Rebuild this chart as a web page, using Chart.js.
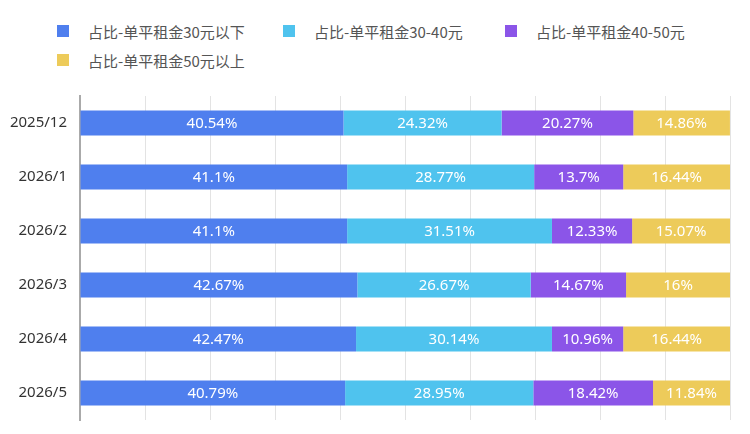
<!DOCTYPE html>
<html>
<head>
<meta charset="utf-8">
<script src="https://cdn.jsdelivr.net/npm/chart.js@4.4.1/dist/chart.umd.min.js"></script>
<style>
  html, body { margin: 0; padding: 0; background: #fff; }
  #wrap { position: relative; width: 750px; height: 434px; }
  #legend {
    position: absolute; left: 57px; top: 21px;
    display: grid; grid-template-columns: 226px 222px 226px; row-gap: 9px;
    font-family: "Noto Sans CJK SC", "Noto Sans", sans-serif; font-size: 15px; color: #555;
  }
  .item { display: flex; align-items: center; height: 20px; }
  .box { width: 12px; height: 12px; margin-right: 19px; }
  canvas { position: absolute; left: 0; top: 0; }
</style>
</head>
<body>
<div id="wrap">
  <div id="legend"></div>
  <canvas id="barChart" width="750" height="434"></canvas>
</div>
<script>
const months = ['2025/12', '2026/1', '2026/2', '2026/3', '2026/4', '2026/5']
const seriesNames = ['占比-单平租金30元以下', '占比-单平租金30-40元', '占比-单平租金40-50元', '占比-单平租金50元以上']
const below30 = [40.54, 41.1, 41.1, 42.67, 42.47, 40.79]
const from30to40 = [24.32, 28.77, 31.51, 26.67, 30.14, 28.95]
const from40to50 = [20.27, 13.7, 12.33, 14.67, 10.96, 18.42]
const above50 = [14.86, 16.44, 15.07, 16, 16.44, 11.84]
const colors = ['#4f7fee', '#4fc3ee', '#8b55e8', '#edcb5a']

const seriesValues = [below30, from30to40, from40to50, above50]

// html legend
const legendEl = document.getElementById('legend')
seriesNames.forEach((name, i) => {
    const item = document.createElement('div')
    item.className = 'item'
    const box = document.createElement('span')
    box.className = 'box'
    box.style.background = colors[i]
    const text = document.createElement('span')
    text.textContent = name
    item.appendChild(box)
    item.appendChild(text)
    legendEl.appendChild(item)
})

// white percent labels in the middle of each segment
const barLabels = {
    id: 'barLabels',
    afterDatasetsDraw(chart) {
        const ctx = chart.ctx
        ctx.save()
        ctx.fillStyle = '#fff'
        ctx.font = '15px "Noto Sans", "Noto Sans CJK SC", sans-serif'
        ctx.textAlign = 'center'
        ctx.textBaseline = 'middle'
        chart.data.datasets.forEach((ds, di) => {
            const meta = chart.getDatasetMeta(di)
            meta.data.forEach((bar, i) => {
                const x = (bar.x + bar.base) / 2
                ctx.fillText(ds.data[i] + '%', x, bar.y + 1)
            })
        })
        ctx.restore()
    }
}

new Chart(document.getElementById('barChart'), {
    type: 'bar',
    data: {
        labels: months,
        datasets: seriesNames.map((name, i) => ({
            label: name,
            data: seriesValues[i],
            backgroundColor: colors[i],
            borderWidth: 0,
            barPercentage: 0.46,
            categoryPercentage: 1,
        })),
    },
    options: {
        indexAxis: 'y',
        responsive: false,
        animation: false,
        layout: { padding: { top: 96, right: 20, bottom: 14, left: 0 } },
        plugins: {
            legend: { display: false },
            tooltip: { enabled: false },
        },
        scales: {
            x: {
                stacked: true,
                min: 0,
                max: 100,
                ticks: { display: false, stepSize: 10 },
                grid: { color: '#e3e3e3', drawTicks: false },
                border: { display: false },
            },
            y: {
                stacked: true,
                afterFit: (scale) => {
                    scale.width = 80
                    scale.paddingTop = 0
                    scale.paddingBottom = 0
                },
                ticks: {
                    padding: 13,
                    color: '#333',
                    font: { size: 15, family: '"Noto Sans", "Noto Sans CJK SC", sans-serif' },
                },
                grid: { display: false, drawTicks: false },
                border: { display: true, color: '#aaa', width: 2 },
            },
        },
    },
    plugins: [barLabels],
})
</script>
</body>
</html>
